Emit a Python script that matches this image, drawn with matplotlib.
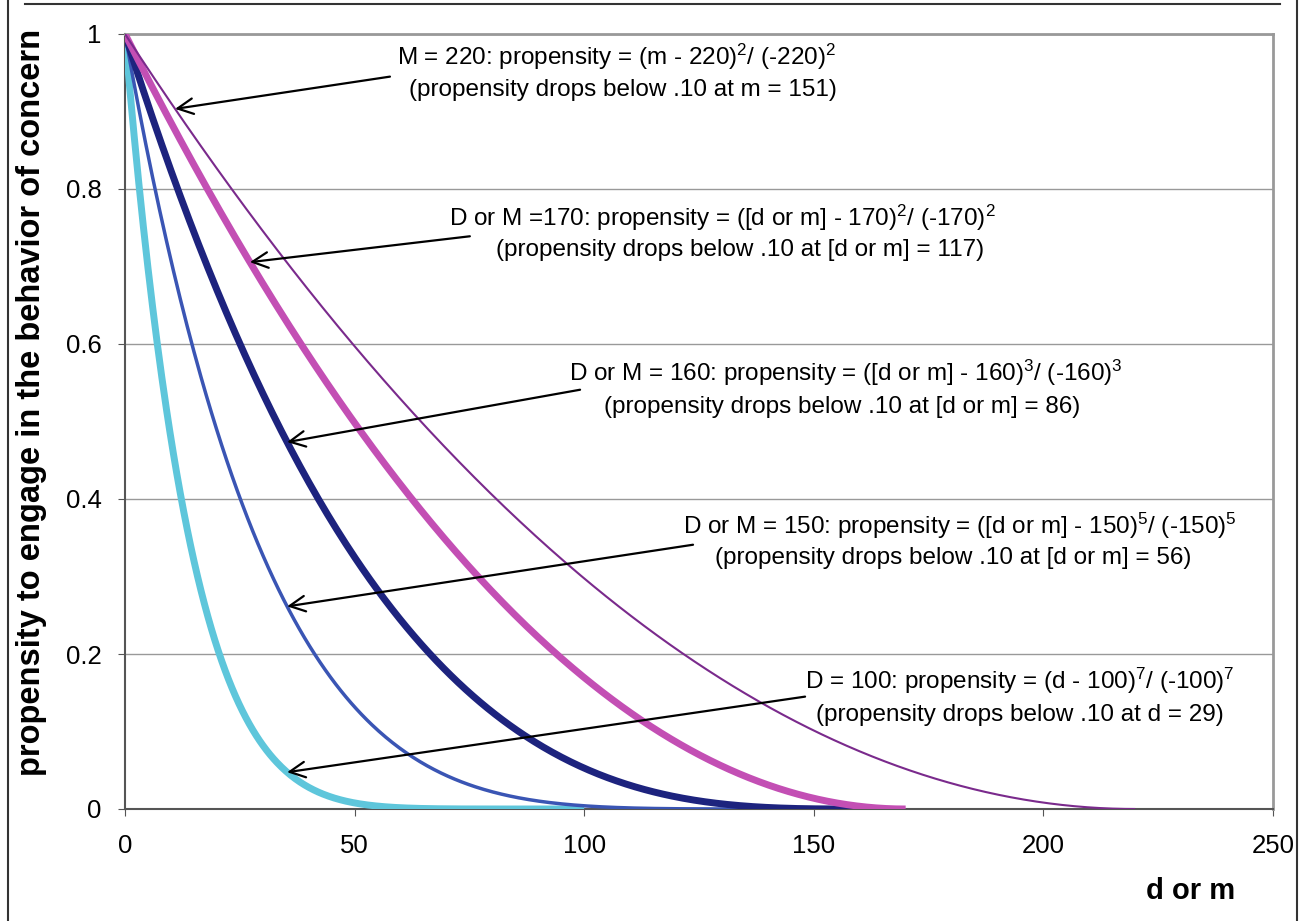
import numpy as np
import matplotlib
matplotlib.use('Agg')
from matplotlib import pyplot as plt
from matplotlib.lines import Line2D

plt.rcParams['font.family'] = ['Liberation Sans', 'DejaVu Sans']
plt.rcParams['mathtext.fontset'] = 'custom'
plt.rcParams['mathtext.rm'] = 'Liberation Sans'
plt.rcParams['mathtext.it'] = 'Liberation Sans'

# curve parameters: cutoff value and exponent
cutoffs = [100, 150, 160, 170, 220]
exponents = [7, 5, 3, 2, 2]
colors = ['#5ec6db', '#3a55b4', '#1d237e', '#c34fb4', '#7a2a8c']
widths = [5, 2.5, 5, 5, 1.5]

labels = [
    ('D = 100: propensity = (d - 100)$^7$/ (-100)$^7$',
     '(propensity drops below .10 at d = 29)'),
    ('D or M = 150: propensity = ([d or m] - 150)$^5$/ (-150)$^5$',
     '(propensity drops below .10 at [d or m] = 56)'),
    ('D or M = 160: propensity = ([d or m] - 160)$^3$/ (-160)$^3$',
     '(propensity drops below .10 at [d or m] = 86)'),
    ('D or M =170: propensity = ([d or m] - 170)$^2$/ (-170)$^2$',
     '(propensity drops below .10 at [d or m] = 117)'),
    ('M = 220: propensity = (m - 220)$^2$/ (-220)$^2$',
     '(propensity drops below .10 at m = 151)'),
]
# arrow tip on curve (x), arrow tail (x, y), text centres in pixels
tip_x = [35.3, 35.3, 35.3, 27.2, 10.9]
tails = [(148.1, 0.145), (123.7, 0.341), (99.1, 0.541), (75.1, 0.739), (57.7, 0.945)]
text_pos = [((1020, 681), (1020, 715)), ((960, 526), (953, 558)),
            ((846, 373), (842, 407)), ((722, 218), (740, 250)),
            ((616, 57), (623, 90))]

W, H = 1301, 921
fig = plt.figure(figsize=(W / 100, H / 100), dpi=100)
ax = fig.add_axes([125 / W, 1 - 809 / H, (1273 - 125) / W, (809 - 34) / H])

for M, n, c, lw in zip(cutoffs, exponents, colors, widths):
    x = np.linspace(0, M, 400)
    y = ((x - M) / (-M)) ** n
    ax.plot(x, y, color=c, lw=lw, solid_capstyle='butt', zorder=3)

for (l1, l2), tx, tail, (p1, p2), M, n in zip(labels, tip_x, tails, text_pos, cutoffs, exponents):
    ty = ((tx - M) / (-M)) ** n
    ax.annotate('', xy=(tx, ty), xytext=tail,
                arrowprops=dict(arrowstyle='->', color='black', lw=1.6,
                                mutation_scale=28, shrinkA=0, shrinkB=0), zorder=5)
    fig.text(p1[0] / W, 1 - p1[1] / H, l1, ha='center', va='center', fontsize=17.5)
    fig.text(p2[0] / W, 1 - p2[1] / H, l2, ha='center', va='center', fontsize=17.5)

ax.set_xlim(0, 250)
ax.set_ylim(0, 1)
ax.set_xticks([0, 50, 100, 150, 200, 250])
ax.set_yticks([0, 0.2, 0.4, 0.6, 0.8, 1])
ax.set_yticklabels(['0', '0.2', '0.4', '0.6', '0.8', '1'])
ax.yaxis.grid(True, color='#999999', lw=1)
ax.set_axisbelow(True)
ax.tick_params(direction='out', length=5, color='#555555', labelsize=18.5, pad=12)
ax.tick_params(axis='x', pad=13)
for s in ['left', 'bottom']:
    ax.spines[s].set_color('#555555')
    ax.spines[s].set_linewidth(1.5)
for s in ['top', 'right']:
    ax.spines[s].set_color('#999999')
    ax.spines[s].set_linewidth(2)

fig.text(32 / W, 1 - 402 / H, 'propensity to engage in the behavior of concern',
         rotation=90, ha='center', va='center', fontsize=23.5, fontweight='bold')
fig.text(1191 / W, 1 - 891 / H, 'd or m', ha='center', va='center',
         fontsize=21, fontweight='bold')

# page frame lines
fig.add_artist(Line2D([8 / W, 8 / W], [0, 1], color='#333333', lw=1.5))
fig.add_artist(Line2D([1297 / W, 1297 / W], [0, 1], color='#333333', lw=1.5))
fig.add_artist(Line2D([25 / W, 1280 / W], [1 - 4 / H, 1 - 4 / H], color='#333333', lw=1.5))

fig.savefig('out.png', dpi=100)
